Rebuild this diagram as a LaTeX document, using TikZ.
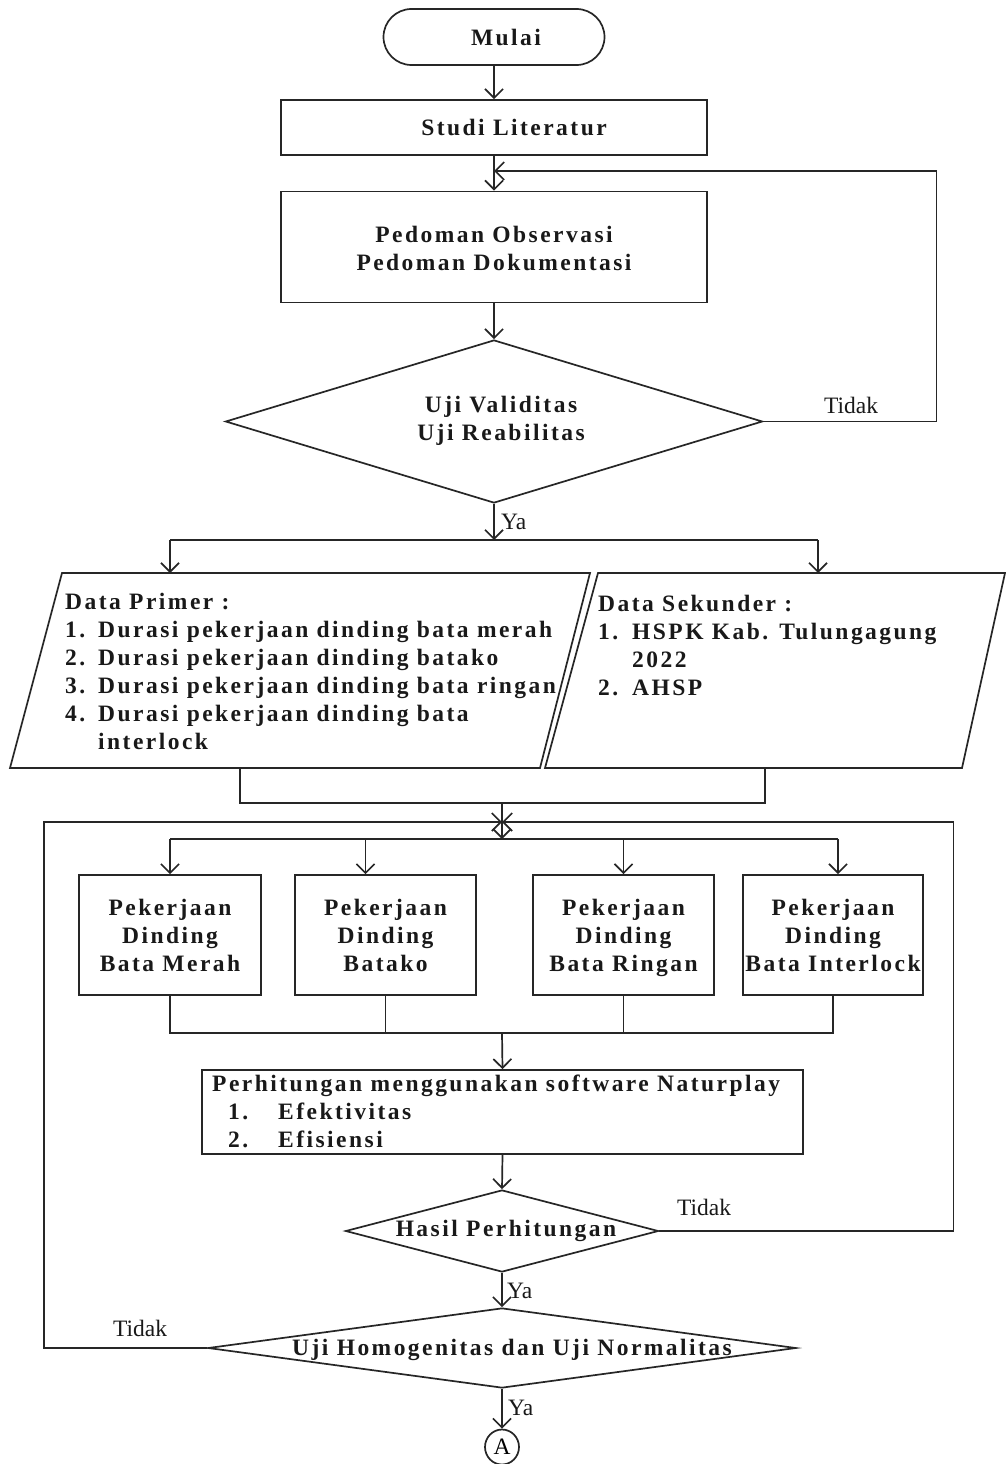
\documentclass[tikz,border=0pt]{standalone}
\usepackage{fontspec}
\setmainfont{Liberation Serif}
\newfontfamily\btfam[LetterSpace=10.5]{Liberation Serif}
\usetikzlibrary{arrows.meta,shapes.geometric,calc}
\newcommand\btfont{\btfam\bfseries\fontsize{23.5}{28}\selectfont}
\newcommand\lbfont{\fontsize{23.5}{28}\selectfont}
\newcommand\nodepth[1]{\raisebox{0pt}[\height][0pt]{#1}}
\begin{document}
\begin{tikzpicture}[x=1pt,y=-1pt,
  line/.style={draw=black!85, line width=1.7pt},
  arr/.style={line, -{Straight Barb[length=9pt,width=18pt]}},
  box/.style={line, rectangle, inner sep=0pt, align=center, font=\btfont, text=black!90},
  dia/.style={line, diamond, inner sep=0pt},
  txt/.style={inner sep=0pt, font=\btfont, text=black!90},
  lbl/.style={inner sep=0pt, font=\lbfont, text=black!90}]
\fill[white] (0,0) rectangle (1005,1464);
\useasboundingbox (0,0) rectangle (1005,1464);

% top part
\node[box, rounded corners=28pt, minimum width=221pt, minimum height=56pt] (mulai) at (494,37) {\hspace*{24pt}Mulai};
\node[box, minimum width=426pt, minimum height=55pt] (studi) at (494,127.5) {\hspace*{40pt}Studi Literatur};
\node[box, minimum width=426pt, minimum height=111pt] (pedoman) at (494,247) {\rule{0pt}{20pt}Pedoman Observasi\\Pedoman Dokumentasi};
\node[dia, minimum width=537pt, minimum height=163pt] (uji) at (494,421.5) {};
\node[txt, align=center] (ujit) at (501,421) {Uji Validitas\\Uji Reabilitas};

\draw[arr] (mulai.south) -- (studi.north);
\draw[arr] (studi.south) -- (pedoman.north);
\draw[arr] (pedoman.south) -- (uji.north);
\coordinate (fb) at (494,171);
\draw[arr] (uji.east) -- ++(173,0) |- (fb);
\node[lbl] (t1) at (851,405) {Tidak};

% data
\coordinate (dp1) at (62,573); \coordinate (dp2) at (590,573);
\coordinate (dp3) at (540,768); \coordinate (dp4) at (10,768);
\coordinate (ds1) at (598,573); \coordinate (ds2) at (1005,573);
\coordinate (ds3) at (962,768); \coordinate (ds4) at (545,768);
\draw[line] (dp1) -- (dp2) -- (dp3) -- (dp4) -- cycle;
\draw[line] (ds1) -- (ds2) -- (ds3) -- (ds4) -- cycle;
\node[txt, anchor=north west, align=left] (dpt) at (65,593) {Data Primer :\\
\makebox[33pt][l]{1.}Durasi pekerjaan dinding bata merah\\
\makebox[33pt][l]{2.}Durasi pekerjaan dinding batako\\
\makebox[33pt][l]{3.}Durasi pekerjaan dinding bata ringan\\
\makebox[33pt][l]{4.}Durasi pekerjaan dinding bata\\
\hspace*{33pt}interlock};
\node[txt, anchor=north west, align=left] (dst) at (598,595) {Data Sekunder :\\
\makebox[34pt][l]{1.}HSPK Kab. Tulungagung\\
\hspace*{34pt}2022\\
\makebox[34pt][l]{2.}AHSP};

\coordinate (s1) at (494,540);
\coordinate (s1l) at (170,540);
\coordinate (s1r) at (818,540);
\draw[arr] (uji.south) -- (s1);
\node[lbl, anchor=west] (y1) at (501,522) {Ya};
\draw[line] (s1l) -- (s1r);
\draw[arr] (s1l) -- (s1l |- dp1);
\draw[arr] (s1r) -- (s1r |- ds1);

% merge
\coordinate (m1) at (240,768);
\coordinate (m2) at (765,768);
\coordinate (mc) at (502,803);
\coordinate (lp) at (502,822);
\coordinate (sp2) at (502,839);
\draw[line] (m1) -- ++(0,35) -| (m2);
\draw[arr] (mc) -- (sp2);

% four boxes
\node[box, minimum width=182pt, minimum height=120pt] (merah) at (170,935) {Pekerjaan\\Dinding\\\nodepth{Bata Merah}};
\node[box, minimum width=181pt, minimum height=120pt] (batako) at (385.5,935) {Pekerjaan\\Dinding\\\nodepth{Batako}};
\node[box, minimum width=181pt, minimum height=120pt] (ringan) at (623.5,935) {Pekerjaan\\Dinding\\\nodepth{Bata Ringan}};
\node[box, minimum width=180pt, minimum height=120pt] (interlock) at (833,935) {Pekerjaan\\Dinding\\\nodepth{Bata Interlock}};
\coordinate (bk) at ($(batako.north)+(-20,0)$);
\coordinate (ik) at ($(interlock.north)+(5,0)$);
\draw[line] (merah.north |- sp2) -- (ik |- sp2);
\draw[arr] (merah.north |- sp2) -- (merah.north);
\draw[arr] (bk |- sp2) -- (bk);
\draw[arr] (ringan.north |- sp2) -- (ringan.north);
\draw[arr] (ik |- sp2) -- (ik);

\coordinate (j) at (502,1033);
\draw[line] (merah.south) |- (interlock.south |- j) -- (interlock.south);
\draw[line] (batako.south) -- (batako.south |- j);
\draw[line] (ringan.south) -- (ringan.south |- j);

% calculation
\node[line, rectangle, inner sep=0pt, minimum width=601pt, minimum height=84pt] (perh) at (502.5,1112) {};
\node[txt, anchor=north west, align=left] (perht) at (212,1075) {Perhitungan menggunakan software Naturplay\\
\hspace*{16pt}\makebox[50pt][l]{1.}Efektivitas\\
\hspace*{16pt}\makebox[50pt][l]{2.}Efisiensi};
\draw[arr] (j) -- (perh.north);

\node[dia, minimum width=313pt, minimum height=82pt] (hasil) at (502,1231) {};
\node[txt] (hasilt) at (506,1231) {Hasil Perhitungan};
\draw[arr] (perh.south) -- (hasil.north);
\draw[arr] (hasil.east) -- ++(294,0) |- (lp);
\node[lbl] (t2) at (704,1207) {Tidak};

\node[dia, minimum width=588pt, minimum height=80pt] (homog) at (502,1348) {};
\node[txt] (homogt) at (512,1350) {Uji Homogenitas dan Uji Normalitas};
\draw[arr] (hasil.south) -- (homog.north);
\node[lbl, anchor=west] (y2) at (507,1291) {Ya};
\draw[arr] (homog.west) -- ++(-163,0) |- (lp);
\node[lbl] (t3) at (140,1328) {Tidak};

\node[line, ellipse, inner sep=0pt, minimum width=34pt, minimum height=35pt, font=\lbfont] (A) at (502,1447) {A};
\draw[arr] (homog.south) -- (A.north);
\node[lbl, anchor=west] (y3) at (508,1408) {Ya};
\end{tikzpicture}
\end{document}
